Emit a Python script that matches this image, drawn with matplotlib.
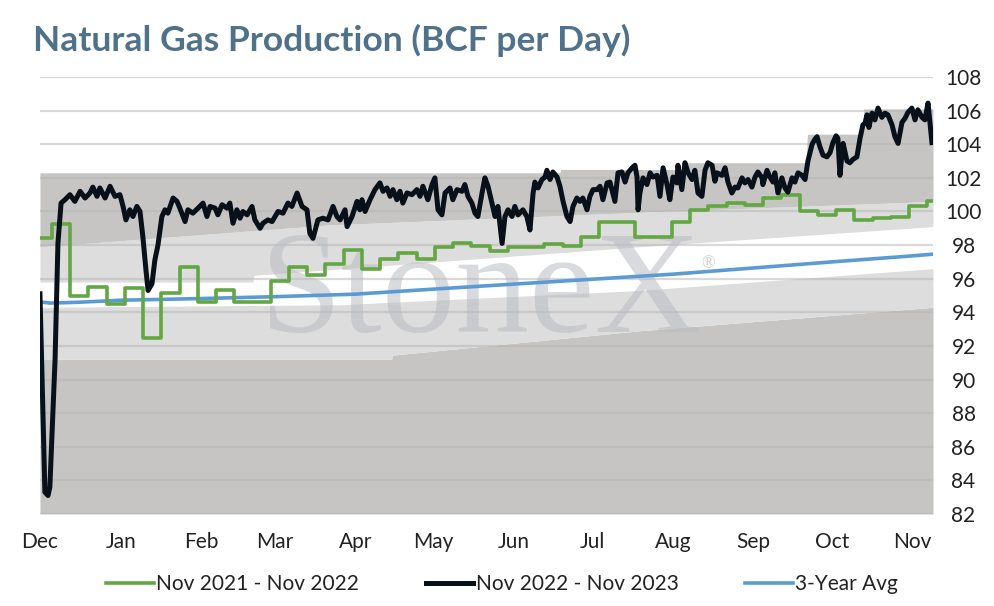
import numpy as np
import matplotlib
matplotlib.use("Agg")
from matplotlib import pyplot as plt

plt.rcParams['font.family'] = ['Lato', 'DejaVu Sans']

# Month labels (days since Dec 1)
month_labels = ['Dec', 'Jan', 'Feb', 'Mar', 'Apr', 'May', 'Jun', 'Jul', 'Aug', 'Sep', 'Oct', 'Nov']
month_days = [0, 31, 62, 90, 121, 151, 182, 212, 243, 274, 304, 335]
last_day = 342.8

# Nov 2021 - Nov 2022 (weekly values)
green_days = [0] + [4.6 + 7 * k for k in range(49)] + [last_day]
green_vals = [98.45, 99.25, 95.0, 95.5, 94.5, 95.45, 92.5, 95.15, 96.7, 94.6,
              95.35, 94.6, 94.6, 95.85, 96.7, 96.2, 96.85, 97.7, 96.6, 97.2,
              97.5, 97.2, 97.9, 98.1, 97.95, 97.65, 97.9, 97.9, 98.05, 97.95,
              98.5, 99.4, 99.4, 98.5, 98.5, 99.4, 100.1, 100.3, 100.5, 100.4,
              100.8, 101.0, 100.0, 99.8, 100.1, 99.5, 99.6, 99.7, 100.3, 100.6,
              100.6]

# Nov 2022 - Nov 2023 (daily)
black_days = [0, 1.9, 3.1, 3.8, 5.8, 6.9, 8.1, 9.6, 11.5, 13.4, 15.4, 17.3, 19.2, 20.3,
              21.9, 23.0, 25.0, 26.9, 28.8, 30.7, 31.9, 33.0, 34.5, 35.7, 37.2, 38.4,
              39.5, 40.7, 41.5, 43.0, 44.1, 45.3, 46.8, 48.0, 49.1, 51.1, 52.6, 53.7,
              55.7, 56.8, 58.7, 60.7, 62.6, 64.1, 65.3, 67.2, 68.3, 69.9, 71.8, 72.9,
              74.1, 75.6, 76.8, 77.9, 79.5, 81.4, 82.5, 84.5, 85.6, 87.5, 89.1, 91.4,
              93.3, 95.2, 96.7, 98.7, 100.6, 102.5, 103.6, 104.8, 106.7, 108.6, 110.6,
              112.5, 114.0, 115.2, 117.1, 117.9, 119.8, 121.7, 122.8, 123.6, 124.8,
              126.7, 128.6, 130.5, 131.7, 133.2, 134.4, 135.5, 137.0, 138.2, 139.3,
              140.9, 142.8, 144.7, 145.9, 147.0, 148.9, 150.5, 151.6, 152.8, 154.3,
              155.5, 157.4, 158.5, 160.1, 162.0, 163.1, 164.3, 165.8, 167.0, 168.1,
              169.7, 170.8, 172.0, 173.5, 174.7, 175.8, 177.4, 178.5, 179.7, 181.2,
              182.3, 183.5, 185.4, 186.9, 188.1, 189.3, 190.0, 191.2, 192.7, 193.9,
              194.6, 195.8, 196.9, 198.5, 199.6, 200.8, 202.3, 203.5, 204.6, 206.1,
              207.3, 208.4, 210.0, 211.1, 212.3, 213.8, 215.0, 216.1, 217.7, 218.8,
              220.7, 221.9, 223.4, 224.6, 225.7, 227.3, 228.4, 229.2, 229.6, 230.3,
              231.5, 233.0, 234.2, 235.3, 236.9, 238.0, 239.2, 240.7, 241.8, 243.0,
              244.5, 244.9, 246.4, 247.6, 248.8, 250.3, 251.4, 252.6, 254.1, 255.3,
              256.4, 258.0, 259.1, 259.9, 261.8, 263.0, 264.1, 265.6, 266.8, 267.9,
              269.5, 270.6, 271.8, 273.3, 274.5, 275.6, 277.2, 277.5, 279.1, 280.2,
              281.4, 282.1, 283.3, 284.8, 286.0, 287.1, 288.7, 289.8, 291.0, 292.5,
              293.7, 294.8, 296.4, 297.5, 298.3, 299.4, 300.6, 302.1, 303.3, 304.4,
              305.6, 306.3, 307.1, 307.9, 308.3, 309.8, 310.9, 312.1, 313.6, 314.8,
              315.9, 316.7, 317.5, 318.2, 319.4, 320.5, 321.7, 323.2, 324.4, 325.5,
              327.1, 328.2, 329.4, 330.9, 332.1, 333.2, 334.7, 335.9, 337.0, 338.6,
              339.7, 340.9, 342.4]
black_vals = [95.1, 83.3, 83.1, 83.6, 91.2, 98.1, 100.5, 100.7, 101.0, 100.6, 101.2, 100.8,
              101.1, 101.45, 100.9, 101.4, 100.8, 101.5, 100.9, 101.0, 100.3, 99.5, 100.1,
              99.7, 100.3, 100.0, 98.5, 96.5, 95.3, 95.7, 97.1, 98.0, 99.7, 100.1, 99.9,
              100.8, 100.6, 100.2, 99.4, 100.1, 99.9, 100.2, 100.5, 99.7, 100.3, 100.2,
              99.8, 100.4, 100.2, 100.5, 99.3, 100.1, 99.6, 100.0, 99.8, 100.3, 99.5, 99.0,
              99.3, 99.5, 99.4, 100.0, 99.9, 100.5, 100.3, 101.1, 100.3, 100.1, 98.7, 98.4,
              99.5, 99.6, 99.5, 100.3, 99.7, 99.5, 100.1, 99.1, 99.7, 100.6, 100.1, 100.7,
              100.0, 100.7, 101.3, 101.7, 101.2, 101.4, 100.9, 101.3, 100.7, 101.2, 100.5,
              101.1, 101.0, 101.3, 100.9, 101.5, 100.7, 101.6, 102.0, 100.1, 99.8, 101.1,
              101.4, 100.7, 101.3, 101.2, 101.6, 100.9, 100.5, 99.9, 99.7, 101.1, 102.0,
              101.5, 100.5, 99.7, 100.3, 98.1, 99.7, 100.1, 99.7, 100.3, 99.8, 100.1, 99.7,
              98.9, 101.1, 101.75, 101.4, 101.9, 102.05, 102.45, 101.9, 102.35, 102.05,
              101.5, 100.6, 99.7, 99.4, 100.3, 100.8, 100.6, 100.8, 100.1, 100.9, 101.3,
              101.3, 101.5, 100.7, 101.7, 101.75, 100.6, 102.3, 102.35, 101.75, 102.3,
              102.6, 102.75, 102.05, 100.1, 101.1, 102.0, 101.6, 102.3, 102.05, 102.15,
              100.9, 102.6, 101.6, 100.7, 102.05, 101.7, 102.75, 101.3, 102.9, 102.3,
              101.9, 102.45, 101.1, 100.9, 102.45, 102.9, 102.75, 101.8, 102.3, 102.15,
              102.6, 101.75, 101.1, 101.45, 101.4, 102.0, 101.7, 101.9, 101.45, 102.05,
              102.35, 102.0, 101.6, 102.45, 102.05, 101.75, 102.3, 101.1, 102.0, 101.4,
              101.15, 102.0, 101.75, 102.3, 102.15, 101.9, 103.0, 104.0, 104.3, 104.45,
              103.85, 103.35, 103.25, 103.5, 104.1, 104.5, 104.35, 102.15, 103.5, 104.05,
              103.0, 102.9, 103.1, 103.25, 104.35, 105.15, 105.25, 105.75, 105.0, 105.85,
              105.45, 106.15, 105.6, 105.85, 105.75, 105.15, 104.45, 104.05, 105.3,
              105.55, 105.9, 106.15, 105.45, 106.05, 105.6, 105.45, 106.45, 104.1]

# 3-year average
avg_days = [0, 4, 15, 31, 62, 90, 121, 151, 182, 212, 243, 274, 304, 335, last_day]
avg_vals = [94.62, 94.55, 94.6, 94.72, 94.82, 94.93, 95.08, 95.38, 95.68, 95.97,
            96.27, 96.64, 97.0, 97.36, 97.46]

# Background range bands (boundaries, bottom to top)
b1_days = [0, 135, 135.1, 230, last_day]
b1_vals = [91.2, 91.2, 91.45, 92.9, 94.3]
b2_days = [0, 115, 230, last_day]
b2_vals = [94.3, 94.45, 95.3, 96.6]
b3_days = [0, 81.8, 81.9, 230, last_day]
b3_vals = [95.8, 95.8, 96.2, 97.9, 99.1]
b4_days = [0, 111, 238, last_day]
b4_vals = [97.9, 99.2, 100.0, 100.6]
b5_days = [0, 199.6, 199.7, 246.8, 246.9, 294.4, 294.5, 315.9, 316.0, last_day]
b5_vals = [102.3, 102.3, 102.5, 102.5, 102.9, 102.9, 104.6, 104.6, 106.1, 106.1]

dark = '#c6c5c4'
light = '#dddddd'

fig = plt.figure(figsize=(9.94, 6.06), dpi=100)
ax = fig.add_axes([0.0402, 0.1518, 0.8984, 0.7211])

grid = np.linspace(0, last_day, 1200)
b1 = np.interp(grid, b1_days, b1_vals)
b2 = np.interp(grid, b2_days, b2_vals)
b3 = np.interp(grid, b3_days, b3_vals)
b4 = np.interp(grid, b4_days, b4_vals)
b5 = np.interp(grid, b5_days, b5_vals)
ax.fill_between(grid, 82, b1, color=dark, lw=0, zorder=1)
ax.fill_between(grid, b1, b2, color=light, lw=0, zorder=1)
ax.fill_between(grid, b3, b4, color=light, lw=0, zorder=1)
ax.fill_between(grid, b4, b5, color=dark, lw=0, zorder=1)

for v in range(82, 109, 2):
    ax.axhline(v, color='#b4b4b4', alpha=0.5, lw=1.6, zorder=2)

# watermark
ax.text(169, 92.8, 'StoneX', family=['Liberation Serif', 'DejaVu Serif'], fontsize=106,
        color='#b9bcc1', alpha=0.55, ha='center', va='baseline', zorder=3)
ax.text(254, 96.9, '®', family=['Liberation Serif', 'DejaVu Serif'], fontsize=13,
        color='#b9bcc1', alpha=0.7, ha='left', va='center', zorder=3)

ax.plot(green_days, green_vals, color='#62a744', lw=2.6, drawstyle='steps-post',
        label='Nov 2021 - Nov 2022', zorder=5)
ax.plot(black_days, black_vals, color='#08101a', lw=3.6, solid_joinstyle='round',
        label='Nov 2022 - Nov 2023', zorder=6)
ax.plot(avg_days, avg_vals, color='#5b9bd5', lw=2.6, label='3-Year Avg', zorder=4)

ax.set_xlim(0, last_day)
ax.set_ylim(82, 108)
ax.set_xticks(month_days)
ax.set_xticklabels(month_labels)
ax.set_yticks(range(82, 109, 2))
ax.yaxis.tick_right()
ax.tick_params(axis='y', length=0, pad=22, labelsize=15, colors='#222222')
ax.tick_params(axis='x', length=0, pad=13, labelsize=15, colors='#222222')
for lab in ax.get_yticklabels():
    lab.set_horizontalalignment('center')
for s in ax.spines.values():
    s.set_visible(False)

fig.legend(loc='center', bbox_to_anchor=(0.505, 0.036), ncol=3, frameon=False, fontsize=15,
           handlelength=2.3, handletextpad=0.1, columnspacing=3.2, labelcolor='#222222')

fig.text(0.033, 0.934, 'Natural Gas Production (BCF per Day)', fontsize=25.5,
         fontweight='bold', color='#4f7189', va='center', ha='left')

fig.savefig('out.png', dpi=100)
